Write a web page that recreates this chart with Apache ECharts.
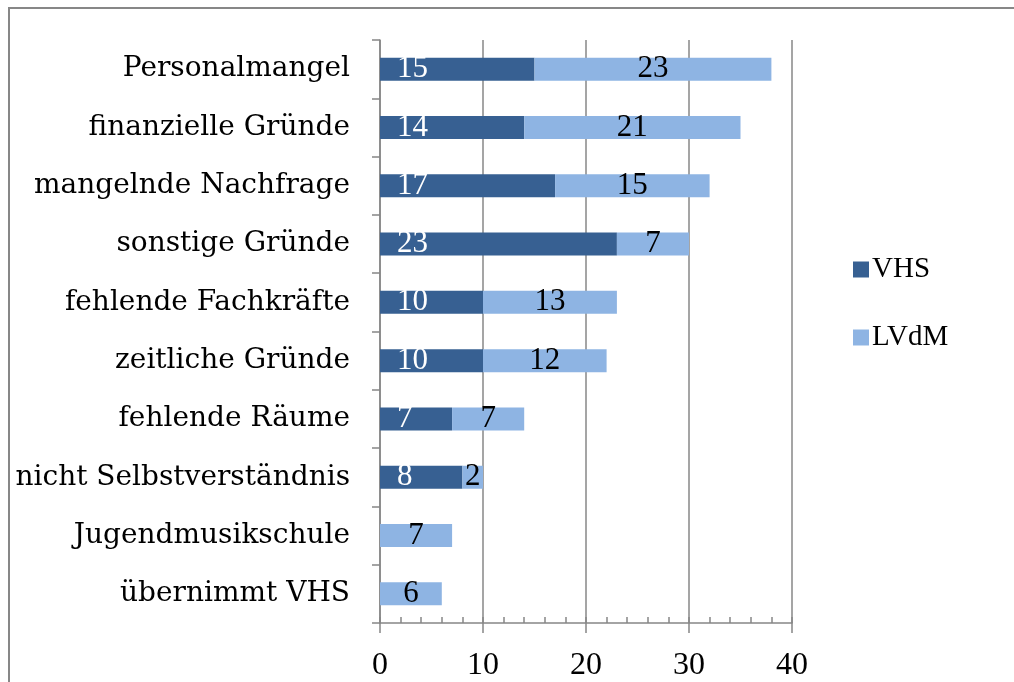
<!DOCTYPE html>
<html>
<head>
<meta charset="utf-8">
<script src="https://cdn.jsdelivr.net/npm/echarts@6/dist/echarts.min.js"></script>
<style>
  html, body { margin: 0; padding: 0; background: #fff; }
  #chart { width: 1014px; height: 682px; }
</style>
</head>
<body>
<div id="chart"></div>
<script>
// Kategorien von oben nach unten
const categories = [
  'Personalmangel',
  'finanzielle Gründe',
  'mangelnde Nachfrage',
  'sonstige Gründe',
  'fehlende Fachkräfte',
  'zeitliche Gründe',
  'fehlende Räume',
  'nicht Selbstverständnis',
  'Jugendmusikschule',
  'übernimmt VHS'
];
const vhsValues = [15, 14, 17, 23, 10, 10, 7, 8, null, null];
const lvdmValues = [23, 21, 15, 7, 13, 12, 7, 2, 7, 6];
const xTicks = [0, 10, 20, 30, 40];

const TEXT_FONT = '"DejaVu Serif", serif';
const NUM_FONT = '"Liberation Serif", serif';
const GRAY = '#878787';
const chart = echarts.init(document.getElementById('chart'));

const option = {
  animation: false,
  textStyle: { fontFamily: TEXT_FONT },
  graphic: [{
    // Rahmen: nur links und oben sichtbar
    type: 'polyline',
    shape: { points: [[9, 700], [9, 8], [1020, 8]] },
    style: { fill: 'none', stroke: GRAY, lineWidth: 2 },
    z: -1
  }],
  legend: {
    orient: 'vertical',
    left: 848,
    top: 250,
    itemWidth: 16,
    itemHeight: 16,
    itemGap: 39,
    icon: 'rect',
    textStyle: { fontFamily: NUM_FONT, fontSize: 29, color: '#000', padding: [0, 0, 0, -2] },
    data: ['VHS', 'LVdM']
  },
  grid: { left: 380, top: 40, width: 412, height: 583 },
  xAxis: [{
    type: 'value',
    min: xTicks[0],
    max: xTicks[xTicks.length - 1],
    interval: 10,
    axisLine: { show: true, lineStyle: { color: GRAY, width: 1.5 } },
    axisTick: { show: true, length: 10, lineStyle: { color: GRAY, width: 1.5 } },
    axisLabel: { fontFamily: NUM_FONT, fontSize: 32, color: '#000', margin: 27 },
    splitLine: { show: true, lineStyle: { color: GRAY, width: 1.5 } }
  }, {
    // Hilfsachse für die kleinen Striche nach innen
    type: 'value',
    position: 'bottom',
    min: 0,
    max: 40,
    interval: 2,
    axisLine: { show: false },
    axisTick: { show: true, inside: true, length: 6, lineStyle: { color: GRAY, width: 1.5 } },
    axisLabel: { show: false },
    splitLine: { show: false }
  }],
  yAxis: {
    type: 'category',
    inverse: true,
    data: categories,
    axisLine: { show: true, lineStyle: { color: GRAY, width: 1.5 } },
    axisTick: { show: true, length: 8, lineStyle: { color: GRAY, width: 1.5 } },
    axisLabel: { fontFamily: TEXT_FONT, fontSize: 28, color: '#000', margin: 30 }
  },
  series: [{
    name: 'VHS',
    type: 'bar',
    stack: 'gesamt',
    barWidth: 23,
    data: vhsValues,
    itemStyle: { color: '#376092' },
    label: {
      show: true,
      position: 'insideLeft',
      distance: 17,
      fontFamily: NUM_FONT,
      fontSize: 31,
      color: '#fff'
    }
  }, {
    name: 'LVdM',
    type: 'bar',
    stack: 'gesamt',
    barWidth: 23,
    data: lvdmValues,
    itemStyle: { color: '#8EB4E3' },
    label: {
      show: true,
      position: 'inside',
      fontFamily: NUM_FONT,
      fontSize: 31,
      color: '#000'
    }
  }]
};

chart.setOption(option);
</script>
</body>
</html>
